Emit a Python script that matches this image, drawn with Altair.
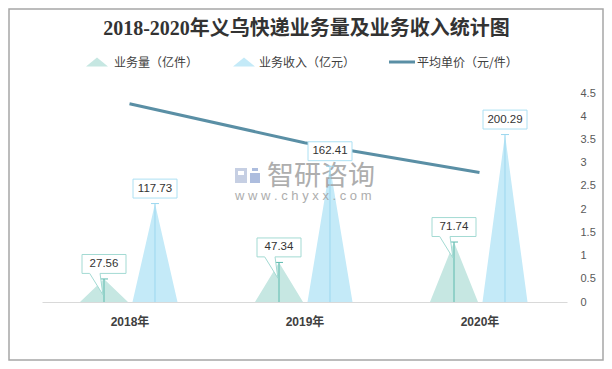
import altair as alt
import pandas as pd

# ---------------- data ----------------
years = ["2018年", "2019年", "2020年"]
volume = [27.56, 47.34, 71.74]        # 业务量（亿件）
revenue = [117.73, 162.41, 200.29]    # 业务收入（亿元）
price = [4.27, 3.43, 2.79]            # 平均单价（元/件）
price_ticks = [0, 0.5, 1, 1.5, 2, 2.5, 3, 3.5, 4, 4.5]

title_text = "2018-2020年义乌快递业务量及业务收入统计图"
legend_names = ["业务量（亿件）", "业务收入（亿元）", "平均单价（元/件）"]

# ---------------- style ----------------
GREEN, GREEN_LINE, GREEN_BOX = "#c6e7e2", "#5cbaae", "#a3dad3"
BLUE, BLUE_LINE, BLUE_BOX = "#c4eaf8", "#9bd7ef", "#ace0f3"
LINE = "#5a8fa5"
TXT = "#404040"
CJK = "Noto Sans CJK SC"

W, H = 525, 209
OFF = 25.5 / 175      # triangle centre offset from category centre (in category units)
GHW = 24 / 175        # green triangle half width
BHW = 22.5 / 175      # blue triangle half width

idx = list(range(len(years)))
xs = alt.Scale(domain=[-0.5, len(years) - 0.5], nice=False, zero=False)
ys = alt.Scale(domain=[0, 250], nice=False)
ps = alt.Scale(domain=[0, 4.5], nice=False)

label_expr = "[" + ",".join("'%s'" % y for y in years) + "][datum.value]"
xaxis = alt.Axis(values=idx, labelExpr=label_expr, title=None, ticks=False, grid=False,
                 domainColor="#d9d9d9", domainWidth=1, labelFontSize=12, labelFontWeight="bold",
                 labelColor=TXT, labelFont="Liberation Sans, " + CJK, labelPadding=14)


def tri(values, off, hw, key):
    rows = []
    for i, v in zip(idx, values):
        c = i + off
        rows += [dict(x=c - hw, y=0, k=f"{key}{i}"), dict(x=c, y=v, k=f"{key}{i}"),
                 dict(x=c + hw, y=0, k=f"{key}{i}")]
    return pd.DataFrame(rows)


def pts(values, off):
    return pd.DataFrame(dict(x=[i + off for i in idx], v=values, z=[0] * len(idx),
                             t=[f"{v:.2f}" for v in values]))


g_tri, b_tri = tri(volume, -OFF, GHW, "g"), tri(revenue, OFF, BHW, "b")
g_pts, b_pts = pts(volume, -OFF), pts(revenue, OFF)
line_df = pd.DataFrame(dict(x=idx, p=price))
one = pd.DataFrame({"a": [0]})

X = alt.X("x:Q", scale=xs, axis=xaxis)

layers = []

# triangles
for df, col in [(g_tri, GREEN), (b_tri, BLUE)]:
    layers.append(alt.Chart(df).mark_area(color=col, opacity=1).encode(
        x=X, y=alt.Y("y:Q", scale=ys, axis=None), detail="k:N"))

# watermark (over the triangles, translucent)
WM = dict(opacity=0.85)
layers.append(alt.Chart(one).mark_rect(color="#bcc7de", **WM).encode(
    x=alt.value(193), x2=alt.value(205), y=alt.value(75), y2=alt.value(90)))
layers.append(alt.Chart(one).mark_rect(color="white").encode(
    x=alt.value(196), x2=alt.value(202), y=alt.value(78), y2=alt.value(82)))
layers.append(alt.Chart(one).mark_rect(color="#9fb2d8", **WM).encode(
    x=alt.value(208), x2=alt.value(218), y=alt.value(80), y2=alt.value(90)))
layers.append(alt.Chart(one).mark_rect(color="#9fb2d8", **WM).encode(
    x=alt.value(210), x2=alt.value(216), y=alt.value(75), y2=alt.value(78)))
layers.append(alt.Chart(one).mark_text(text="智研咨询", font=CJK, fontSize=27, color="#a0a0a0",
                                       align="left", baseline="alphabetic", **WM).encode(
    x=alt.value(225), y=alt.value(92)))
layers.append(alt.Chart(one).mark_text(text="w w w . c h y x x . c o m", font="Liberation Sans",
                                       fontSize=13, color="#a0a0a0", align="left",
                                       baseline="alphabetic", **WM).encode(
    x=alt.value(193), y=alt.value(107)))

# inner rules + caps
for df, col in [(g_pts, GREEN_LINE), (b_pts, BLUE_LINE)]:
    layers.append(alt.Chart(df).mark_rule(color=col, strokeWidth=1).encode(
        x=X, y=alt.Y("v:Q", scale=ys, axis=None), y2="z:Q"))
    layers.append(alt.Chart(df).mark_point(shape="M-1,0H1", size=64, filled=False,
                                           color=col, strokeWidth=1, opacity=1).encode(
        x=X, y=alt.Y("v:Q", scale=ys, axis=None)))

# price line (right axis)
layers.append(alt.Chart(line_df).mark_line(color=LINE, strokeWidth=3).encode(
    x=X,
    y=alt.Y("p:Q", scale=ps, axis=alt.Axis(orient="right", values=price_ticks,
                                           labelExpr="'' + datum.value", title=None,
                                           grid=False, ticks=False, domain=False,
                                           labelAlign="left", labelPadding=13, labelFontSize=11,
                                           labelColor="#595959", labelFont="Liberation Sans"))))

# label boxes
box_g = "M-1,-0.43H1V0.43H-0.18L-0.05,1.4L-0.65,0.43H-1Z"
box_b = "M-1,-0.43H1V0.43H-1Z"
for df, path, col in [(g_pts, box_g, GREEN_BOX), (b_pts, box_b, BLUE_BOX)]:
    layers.append(alt.Chart(df).mark_point(shape=path, size=44 * 44, filled=True, fill="white",
                                           stroke=col, strokeWidth=1, opacity=1, yOffset=-15).encode(
        x=X, y=alt.Y("v:Q", scale=ys, axis=None)))
    layers.append(alt.Chart(df).mark_text(font="Liberation Sans", fontSize=11.5, color="#333333",
                                          align="center", baseline="middle", dy=-15).encode(
        x=X, y=alt.Y("v:Q", scale=ys, axis=None), text="t:N"))

# title
layers.append(alt.Chart(one).mark_text(text=title_text, font="Liberation Serif, " + CJK, fontSize=20,
                                       fontWeight="bold", color="#333333", align="center",
                                       baseline="alphabetic").encode(
    x=alt.value(264.5), y=alt.value(-58)))

# legend
tri_legend = "M-1,0.4L0,-0.4L1,0.4Z"
leg_y = -31
for cx, col in [(55, GREEN), (202, BLUE)]:
    layers.append(alt.Chart(one).mark_point(shape=tri_legend, size=484, filled=True, color=col,
                                            opacity=1).encode(x=alt.value(cx), y=alt.value(leg_y)))
layers.append(alt.Chart(one).mark_rule(color=LINE, strokeWidth=3).encode(
    x=alt.value(347), x2=alt.value(373), y=alt.value(leg_y)))
for tx, name in zip([72, 217, 375], legend_names):
    layers.append(alt.Chart(one).mark_text(text=name, font=CJK, fontSize=12, color=TXT,
                                           align="left", baseline="middle").encode(
        x=alt.value(tx), y=alt.value(leg_y + 1)))

# outer border
layers.append(alt.Chart(one).mark_rect(fill=None, stroke="#a6a6a6", strokeWidth=1.5).encode(
    x=alt.value(-33), x2=alt.value(561), y=alt.value(-84), y2=alt.value(267)))

chart = alt.layer(*layers).resolve_scale(y="independent").properties(
    width=W, height=H,
    autosize=alt.AutoSizeParams(type="none"),
    padding={"left": 34, "top": 85, "right": 37, "bottom": 59},
    background="white",
).configure_view(stroke=None)

chart.save("out.html", embed_options={"renderer": "svg", "actions": False})
